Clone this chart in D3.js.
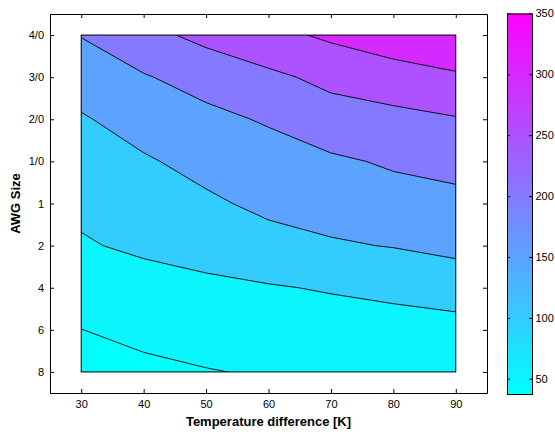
<!DOCTYPE html>
<html>
<head>
<meta charset="utf-8">
<script src="https://cdn.jsdelivr.net/npm/d3@7"></script>
<style>
  body { margin: 0; background: #fff; }
  svg { display: block; }
</style>
</head>
<body>
<svg id="chart" width="555" height="432"></svg>
<script>
// ---- data ----
const temps = [30, 40, 50, 60, 70, 80, 90];                       // Temperature difference [K]
const awgSizes = ["8", "6", "4", "2", "1", "1/0", "2/0", "3/0", "4/0"]; // bottom -> top
// estimated value at each grid point, one array per AWG size (columns follow temps)
const awg8   = [37.5, 43.3, 48.4, 53.0, 57.3, 61.2, 65.0];
const awg6   = [49.7, 57.7, 64.6, 70.7, 76.4, 81.7, 86.6];
const awg4   = [68.1, 78.6, 87.9, 96.3, 104.0, 111.2, 118.0];
const awg2   = [94.9, 109.6, 122.5, 136.0, 145.0, 152.0, 164.4];
const awg1   = [111.0, 128.2, 143.3, 159.0, 169.6, 181.3, 190.0];
const awg1_0 = [126.0, 145.5, 162.7, 178.2, 192.5, 205.8, 212.0];
const awg2_0 = [146.0, 167.4, 187.2, 205.1, 230.0, 236.8, 247.0];
const awg3_0 = [170.0, 196.3, 219.5, 240.4, 262.0, 277.6, 292.0];
const awg4_0 = [202.0, 236.0, 263.0, 285.7, 308.6, 329.9, 349.9];
const levels = [50, 100, 150, 200, 250, 300];                     // contour levels
const colorbarTicks = [50, 100, 150, 200, 250, 300, 350];
const xTicks = [30, 40, 50, 60, 70, 80, 90];

// ---- layout ----
const svg = d3.select("#chart");
const FONT = "'Liberation Sans', Arial, Helvetica, sans-serif";
const plot = { left: 50, right: 487, top: 14, bottom: 393 };
const cbar = { left: 507, right: 532, top: 13.5, bottom: 394 };

const rows = [awg8, awg6, awg4, awg2, awg1, awg1_0, awg2_0, awg3_0, awg4_0];
const values = rows.flat();
const zmin = d3.min(values), zmax = d3.max(values);

const x = d3.scaleLinear([25, 95], [plot.left, plot.right]);
const y = d3.scaleLinear([-0.5, awgSizes.length - 0.5], [plot.bottom, plot.top]);
const color = d3.scaleSequential([zmin, zmax], d3.interpolateRgb("#00ffff", "#ff00ff"));

const dt = temps[1] - temps[0];
const proj = d3.geoTransform({
  point(gx, gy) { this.stream.point(x(temps[0] + (gx - 0.5) * dt), y(gy - 0.5)); }
});
const path = d3.geoPath(proj);
const contours = d3.contours().size([temps.length, rows.length]).thresholds(levels)(values);

const defs = svg.append("defs");
const x0 = x(temps[0]), x1 = x(temps[temps.length - 1]);
const yTop = y(awgSizes.length - 1), yBot = y(0);
defs.append("clipPath").attr("id", "dataClip")
  .append("rect").attr("x", x0).attr("y", yTop).attr("width", x1 - x0).attr("height", yBot - yTop);

// ---- filled contours ----
const g = svg.append("g").attr("clip-path", "url(#dataClip)");
g.append("rect").attr("x", x0).attr("y", yTop).attr("width", x1 - x0).attr("height", yBot - yTop)
  .attr("fill", color(zmin));
g.selectAll("path.fill").data(contours).join("path")
  .attr("class", "fill").attr("d", path).attr("fill", d => color(d.value)).attr("stroke", "none");
g.selectAll("path.line").data(contours).join("path")
  .attr("class", "line").attr("d", path).attr("fill", "none")
  .attr("stroke", "#000").attr("stroke-width", 0.9);
svg.append("rect").attr("x", x0).attr("y", yTop).attr("width", x1 - x0).attr("height", yBot - yTop)
  .attr("fill", "none").attr("stroke", "#000").attr("stroke-width", 1);

// ---- axes ----
function styleAxis(sel) {
  sel.selectAll("text").attr("font-family", FONT).attr("font-size", 11).attr("fill", "#000");
  sel.selectAll("path, line").attr("stroke", "#000");
  sel.attr("font-family", FONT);
}
svg.append("g").attr("transform", `translate(0,${plot.bottom})`)
  .call(d3.axisBottom(x).tickValues(xTicks).tickSizeInner(-4).tickSizeOuter(0).tickPadding(7))
  .call(styleAxis);
svg.append("g").attr("transform", `translate(0,${plot.top})`)
  .call(d3.axisTop(x).tickValues(xTicks).tickSizeInner(-4).tickSizeOuter(0).tickFormat(""))
  .call(styleAxis);
const yIdx = d3.range(awgSizes.length);
svg.append("g").attr("transform", `translate(${plot.left},0)`)
  .call(d3.axisLeft(y).tickValues(yIdx).tickFormat(i => awgSizes[i]).tickSizeInner(-4).tickSizeOuter(0).tickPadding(6))
  .call(styleAxis);
svg.append("g").attr("transform", `translate(${plot.right},0)`)
  .call(d3.axisRight(y).tickValues(yIdx).tickFormat("").tickSizeInner(-4).tickSizeOuter(0))
  .call(styleAxis);

svg.append("text").attr("x", (plot.left + plot.right) / 2).attr("y", 426)
  .attr("text-anchor", "middle").attr("font-family", FONT).attr("font-weight", "bold")
  .attr("font-size", 13).text("Temperature difference [K]");
svg.append("text").attr("transform", `translate(20,${(plot.top + plot.bottom) / 2}) rotate(-90)`)
  .attr("text-anchor", "middle").attr("font-family", FONT).attr("font-weight", "bold")
  .attr("font-size", 13).text("AWG Size");

// ---- colorbar ----
const cb = d3.scaleLinear([zmin, zmax], [cbar.bottom, cbar.top]);
const grad = defs.append("linearGradient").attr("id", "cbGrad")
  .attr("x1", 0).attr("y1", 1).attr("x2", 0).attr("y2", 0);
grad.selectAll("stop").data(d3.range(0, 1.0001, 0.1)).join("stop")
  .attr("offset", d => d).attr("stop-color", d => color(zmin + d * (zmax - zmin)));
svg.append("rect").attr("x", cbar.left).attr("y", cbar.top)
  .attr("width", cbar.right - cbar.left).attr("height", cbar.bottom - cbar.top)
  .attr("fill", "url(#cbGrad)");
svg.append("g").attr("transform", `translate(${cbar.right},0)`)
  .call(d3.axisRight(cb).tickValues(colorbarTicks).tickSizeInner(-3).tickSizeOuter(0).tickPadding(3.5))
  .call(styleAxis);
svg.append("g").attr("transform", `translate(${cbar.left},0)`)
  .call(d3.axisLeft(cb).tickValues(colorbarTicks).tickFormat("").tickSizeInner(-3).tickSizeOuter(0))
  .call(styleAxis);
svg.append("rect").attr("x", cbar.left + 0.5).attr("y", cbar.top + 0.5)
  .attr("width", cbar.right - cbar.left).attr("height", cbar.bottom - cbar.top)
  .attr("fill", "none").attr("stroke", "#000").attr("stroke-width", 1);
</script>
</body>
</html>
